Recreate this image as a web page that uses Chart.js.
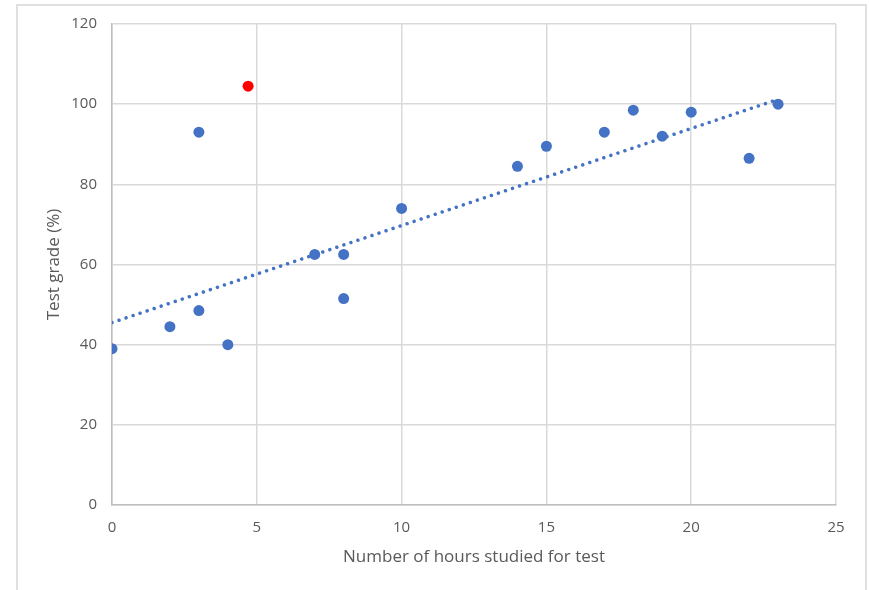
<!DOCTYPE html>
<html>
<head>
<meta charset="utf-8">
<script src="https://cdn.jsdelivr.net/npm/chart.js@4"></script>
<style>
  html, body { margin: 0; padding: 0; background: #fff; }
  #wrap { position: absolute; left: 0; top: 0; width: 869px; height: 590px; }
  #frame { position: absolute; left: 16px; top: 4px; width: 847px; height: 620px; border: 2px solid #e0e0e0; }
</style>
</head>
<body>
<div id="frame"></div>
<div id="wrap"><canvas id="gradesChart"></canvas></div>
<script>
const hours = [0, 2, 3, 3, 4, 7, 8, 8, 10, 14, 15, 17, 18, 19, 20, 22, 23];
const grades = [39, 44.5, 48.5, 93, 40, 62.5, 62.5, 51.5, 74, 84.5, 89.5, 93, 98.5, 92, 98, 86.5, 100];
const outlierHours = [4.7];
const outlierGrades = [104.5];
// trend line end points
const trendHours = [0, 23];
const trendGrades = [45.5, 101.2];

function toPoints(xs, ys) {
  return xs.map((x, i) => ({ x: x, y: ys[i] }));
}

const tickFont = { family: 'Open Sans', size: 15 };
const titleFont = { family: 'Open Sans', size: 17 };

const ctx = document.getElementById('gradesChart').getContext('2d');
new Chart(ctx, {
  type: 'scatter',
  data: {
    datasets: [
      {
        label: 'Trend',
        type: 'line',
        data: toPoints(trendHours, trendGrades),
        borderColor: '#4472C4',
        borderWidth: 3.5,
        borderDash: [0.01, 7.4],
        borderCapStyle: 'round',
        pointRadius: 0,
        fill: false,
        order: 0,
      },
      {
        label: 'Grades',
        data: toPoints(hours, grades),
        backgroundColor: '#4472C4',
        borderWidth: 0,
        pointRadius: 5.5,
        order: 1,
      },
      {
        label: 'Outlier',
        data: toPoints(outlierHours, outlierGrades),
        backgroundColor: '#FF0000',
        borderWidth: 0,
        pointRadius: 5.5,
        order: 1,
      },
    ]
  },
  options: {
    responsive: true,
    maintainAspectRatio: false,
    animation: false,
    layout: {
      padding: { left: 40, top: 24, right: 33, bottom: 19 },
    },
    plugins: {
      legend: { display: false },
      tooltip: { enabled: false },
    },
    scales: {
      x: {
        type: 'linear',
        min: 0,
        max: 25,
        afterFit: (scale) => { scale.height = 66; },
        ticks: { stepSize: 5, color: '#595959', font: tickFont, padding: 14 },
        grid: { color: '#d9d9d9', lineWidth: 1.5, drawTicks: false },
        border: { color: '#bfbfbf', width: 1.5 },
        title: {
          display: true,
          text: 'Number of hours studied for test',
          color: '#595959',
          font: titleFont,
        },
      },
      y: {
        min: 0,
        max: 120,
        afterFit: (scale) => { scale.width = 72; },
        ticks: { stepSize: 20, color: '#595959', font: tickFont, padding: 15 },
        grid: { color: '#d9d9d9', lineWidth: 1.5, drawTicks: false },
        border: { color: '#bfbfbf', width: 1.5 },
        title: {
          display: true,
          text: 'Test grade (%)',
          color: '#595959',
          font: titleFont,
        },
      },
    },
  },
});
</script>
</body>
</html>
